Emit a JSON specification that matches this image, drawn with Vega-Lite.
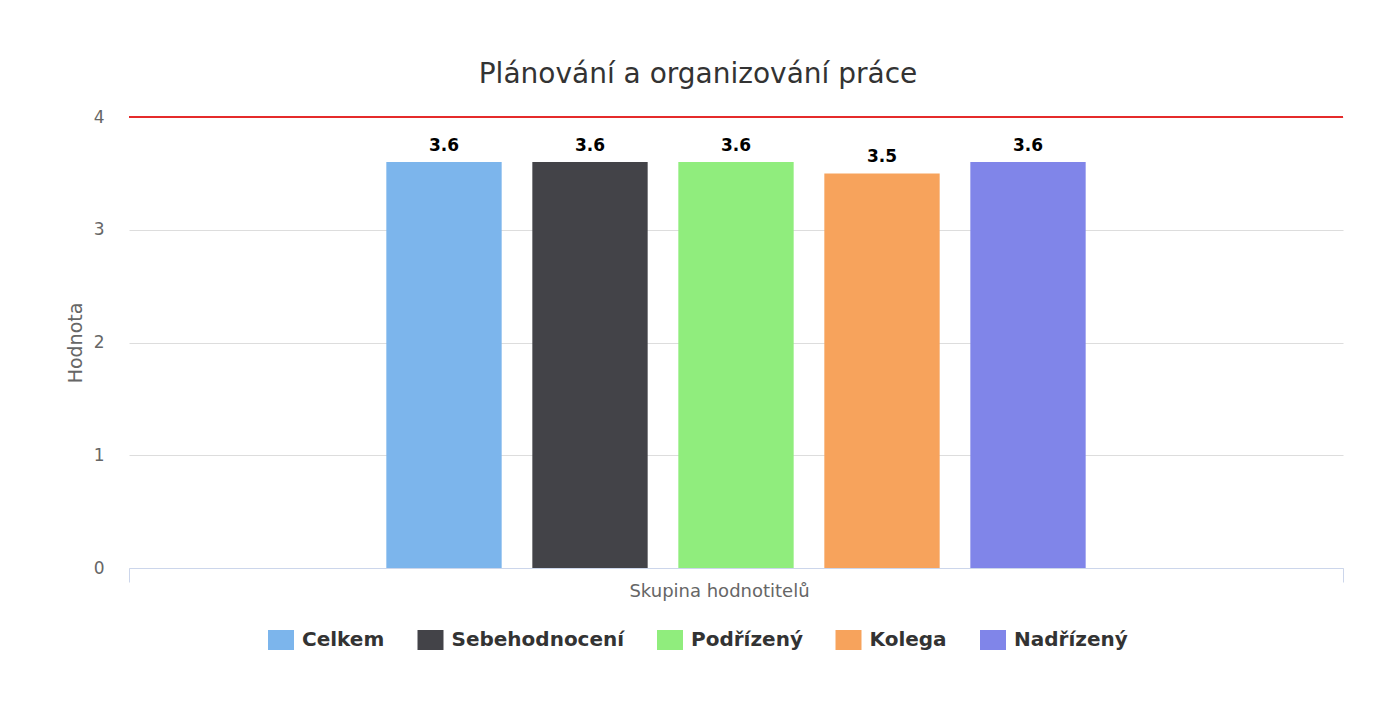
{
  "$schema": "https://vega.github.io/schema/vega-lite/v6.json",
  "autosize": {"type": "none"},
  "width": 1214,
  "height": 451,
  "padding": {"left": 129, "top": 117, "right": 39, "bottom": 141},
  "background": "white",
  "config": {
    "font": "DejaVu Sans",
    "view": {"stroke": null}
  },
  "title": {
    "text": "Plánování a organizování práce",
    "fontSize": 28,
    "fontWeight": "normal",
    "color": "#333333",
    "font": "DejaVu Sans",
    "anchor": "middle",
    "baseline": "alphabetic",
    "offset": 2,
    "dy": 5,
    "dx": -38
  },
  "datasets": {
    "scores": [
      {"skupina": "Skupina hodnotitelů", "hodnotitel": "Celkem", "hodnota": 3.6},
      {"skupina": "Skupina hodnotitelů", "hodnotitel": "Sebehodnocení", "hodnota": 3.6},
      {"skupina": "Skupina hodnotitelů", "hodnotitel": "Podřízený", "hodnota": 3.6},
      {"skupina": "Skupina hodnotitelů", "hodnotitel": "Kolega", "hodnota": 3.5},
      {"skupina": "Skupina hodnotitelů", "hodnotitel": "Nadřízený", "hodnota": 3.6}
    ],
    "limit": [{"limit": 4}]
  },
  "layer": [
    {
      "data": {"name": "scores"},
      "mark": {"type": "bar"},
      "encoding": {
        "x": {
          "field": "skupina",
          "type": "nominal",
          "scale": {"paddingInner": 0, "paddingOuter": 0},
          "axis": {
            "title": "Skupina hodnotitelů",
            "labels": false,
            "ticks": true,
            "tickBand": "extent",
            "tickSize": 14,
            "tickColor": "#ccd6eb",
            "domainColor": "#ccd6eb",
            "domainWidth": 1,
            "titleFontSize": 18,
            "titleFontWeight": "normal",
            "titleColor": "#666666",
            "titlePadding": 0,
            "titleX": 590
          }
        },
        "xOffset": {
          "field": "hodnotitel",
          "type": "nominal",
          "scale": {
            "domain": ["_l", "Celkem", "Sebehodnocení", "Podřízený", "Kolega", "Nadřízený", "_r"],
            "paddingInner": 0.21,
            "paddingOuter": 0.7625
          }
        },
        "y": {
          "field": "hodnota",
          "type": "quantitative",
          "scale": {"domain": [0, 4], "nice": false},
          "axis": {
            "title": "Hodnota",
            "values": [0, 1, 2, 3, 4],
            "format": "d",
            "domain": false,
            "ticks": false,
            "grid": true,
            "gridColor": "#dddddd",
            "labelFontSize": 17,
            "labelColor": "#666666",
            "labelPadding": 25,
            "titleFontSize": 19,
            "titleFontWeight": "normal",
            "titleColor": "#666666",
            "titlePadding": 8
          }
        },
        "color": {
          "field": "hodnotitel",
          "type": "nominal",
          "scale": {
            "domain": ["Celkem", "Sebehodnocení", "Podřízený", "Kolega", "Nadřízený"],
            "range": ["#7cb5ec", "#434348", "#90ed7d", "#f7a35c", "#8085e9"]
          },
          "legend": {
            "title": null,
            "orient": "none",
            "direction": "horizontal",
            "legendX": 142,
            "legendY": 513,
            "padding": 0,
            "symbolType": "M-1.3,-1h2.6v2h-2.6Z",
            "symbolSize": 400,
            "symbolStrokeWidth": 0,
            "symbolOpacity": 1,
            "labelFontSize": 20,
            "labelFontWeight": "bold",
            "labelColor": "#333333",
            "labelOffset": 11,
            "labelLimit": 400,
            "columnPadding": 32.5
          }
        }
      }
    },
    {
      "data": {"name": "scores"},
      "mark": {"type": "text", "baseline": "alphabetic", "dy": -11, "fontSize": 17, "fontWeight": "bold", "color": "#000000"},
      "encoding": {
        "x": {"field": "skupina", "type": "nominal"},
        "xOffset": {"field": "hodnotitel", "type": "nominal"},
        "y": {"field": "hodnota", "type": "quantitative"},
        "text": {"field": "hodnota", "type": "quantitative", "format": ".1f"}
      }
    },
    {
      "data": {"name": "limit"},
      "mark": {"type": "rule", "color": "#e52b2b", "strokeWidth": 2},
      "encoding": {
        "y": {"field": "limit", "type": "quantitative"}
      }
    }
  ]
}
